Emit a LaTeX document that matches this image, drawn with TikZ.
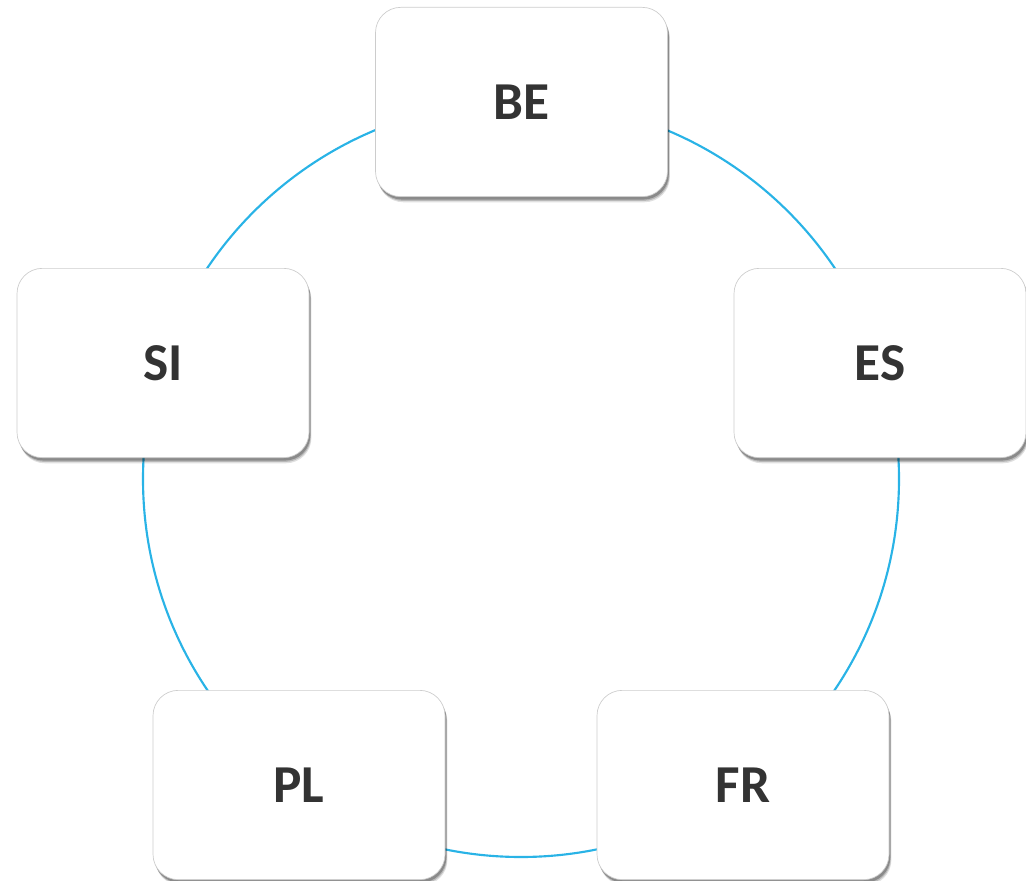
\documentclass[tikz,border=0pt]{standalone}
\usepackage{fontspec}
\setmainfont{Carlito}
\usetikzlibrary{shadows}
\definecolor{ringblue}{HTML}{29B3E6}
\definecolor{txtgray}{HTML}{333333}
\tikzset{
  ctry/.style={draw=black!20, line width=0.5pt, fill=white, rounded corners=19pt,
    minimum width=219pt, minimum height=142pt, inner sep=0pt,
    font=\fontsize{40}{48}\selectfont\bfseries, text=txtgray,
    drop shadow={shadow xshift=1.8pt, shadow yshift=-4.2pt, opacity=0.12, fill=black},
    drop shadow={shadow xshift=1.4pt, shadow yshift=-3.2pt, opacity=0.18, fill=black},
    drop shadow={shadow xshift=1.0pt, shadow yshift=-2.2pt, opacity=0.25, fill=black}},
  ring/.style={draw=ringblue, line width=1.6pt}
}
\begin{document}
\begin{tikzpicture}[x=0.75pt,y=-0.75pt]
\useasboundingbox (0,0) rectangle (1026,881);
\coordinate (c) at (521,479);
\draw[ring] (c) circle [radius=378*0.75pt];
\node[ctry] (be) at (521.5,102) {BE};
\node[ctry] (es) at (880,363) {ES};
\node[ctry] (si) at (163,363) {SI};
\node[ctry] (pl) at (299,785) {PL};
\node[ctry] (fr) at (743,785) {FR};
\end{tikzpicture}
\end{document}
